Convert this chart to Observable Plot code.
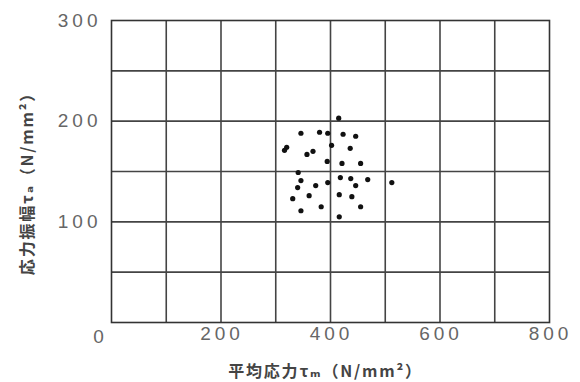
<!DOCTYPE html>
<html>
<head>
<meta charset="utf-8">
<script src="https://cdn.jsdelivr.net/npm/d3@7"></script>
<script src="https://cdn.jsdelivr.net/npm/@observablehq/plot@0.6"></script>
<style>
  html, body { margin: 0; padding: 0; background: #fff; }
  #chart { width: 580px; height: 382px; }
</style>
</head>
<body>
<div id="chart"></div>
<script>
// Mean stress τm (N/mm²)
const meanStress = [415, 346, 380, 395, 423, 446, 402, 320, 316, 368, 357, 436, 394, 421, 455,
  341, 346, 340, 373, 395, 418, 437, 468, 446, 331, 361, 416, 439, 383, 455, 346, 416, 512];
// Stress amplitude τa (N/mm²)
const stressAmp = [203, 188, 189, 188, 187, 185, 176, 174, 171, 170, 167, 173, 160, 158, 158,
  149, 141, 134, 136, 139, 144, 143, 142, 136, 123, 126, 127, 125, 115, 115, 111, 105, 139];

const xTicks = [200, 400, 600, 800];
const yTicks = [100, 200, 300];
const xGrid = [100, 200, 300, 400, 500, 600, 700];
const yGrid = [50, 100, 150, 200, 250];
const originLabel = ["0"];
const xLabel = ["平均応力τₘ（N/mm²）"];
const yLabel = ["応力振幅τₐ（N/mm²）"];

const data = meanStress.map((x, i) => ({x, y: stressAmp[i]}));

const chart = Plot.plot({
  width: 580,
  height: 382,
  marginLeft: 111,
  marginRight: 31,
  marginTop: 20,
  marginBottom: 60,
  style: {fontFamily: "'Noto Sans CJK JP', 'DejaVu Sans', sans-serif", color: "#222", background: "#fff"},
  x: {domain: [0, 800]},
  y: {domain: [0, 300]},
  marks: [
    Plot.gridX(xGrid, {stroke: "#444", strokeOpacity: 1, strokeWidth: 1.6}),
    Plot.gridY(yGrid, {stroke: "#444", strokeOpacity: 1, strokeWidth: 1.6}),
    Plot.frame({stroke: "#333", strokeWidth: 1.6}),
    Plot.axisX(xTicks, {tickSize: 0, tickPadding: 4, fontSize: 19, fill: "#666", label: null, dx: 1,
      fontFamily: "'Liberation Sans', Arial, sans-serif", className: "ticklbl"}),
    Plot.axisY(yTicks, {tickSize: 0, tickPadding: 10, fontSize: 19, fill: "#666", label: null,
      fontFamily: "'Liberation Sans', Arial, sans-serif", className: "ticklbl"}),
    Plot.text(originLabel, {x: 0, y: 0, dx: -13, dy: 14, fontSize: 19, fill: "#666",
      fontFamily: "'Liberation Sans', Arial, sans-serif"}),
    Plot.text(xLabel, {frameAnchor: "bottom", textAnchor: "middle", dx: -5, dy: 54, fontSize: 16,
      fill: "#444", fontWeight: "bold", className: "axlbl"}),
    Plot.text(yLabel, {frameAnchor: "left", textAnchor: "middle", dx: -84, dy: 8, rotate: -90, fontSize: 16,
      fill: "#444", fontWeight: "bold", className: "axlbl"}),
    Plot.dot(data, {x: "x", y: "y", r: 2.6, fill: "#111", stroke: null})
  ]
});
d3.select(chart).selectAll(".ticklbl text").style("letter-spacing", "4px");
d3.select(chart).selectAll(".axlbl text").style("letter-spacing", "1.8px");
document.getElementById("chart").append(chart);
</script>
</body>
</html>
